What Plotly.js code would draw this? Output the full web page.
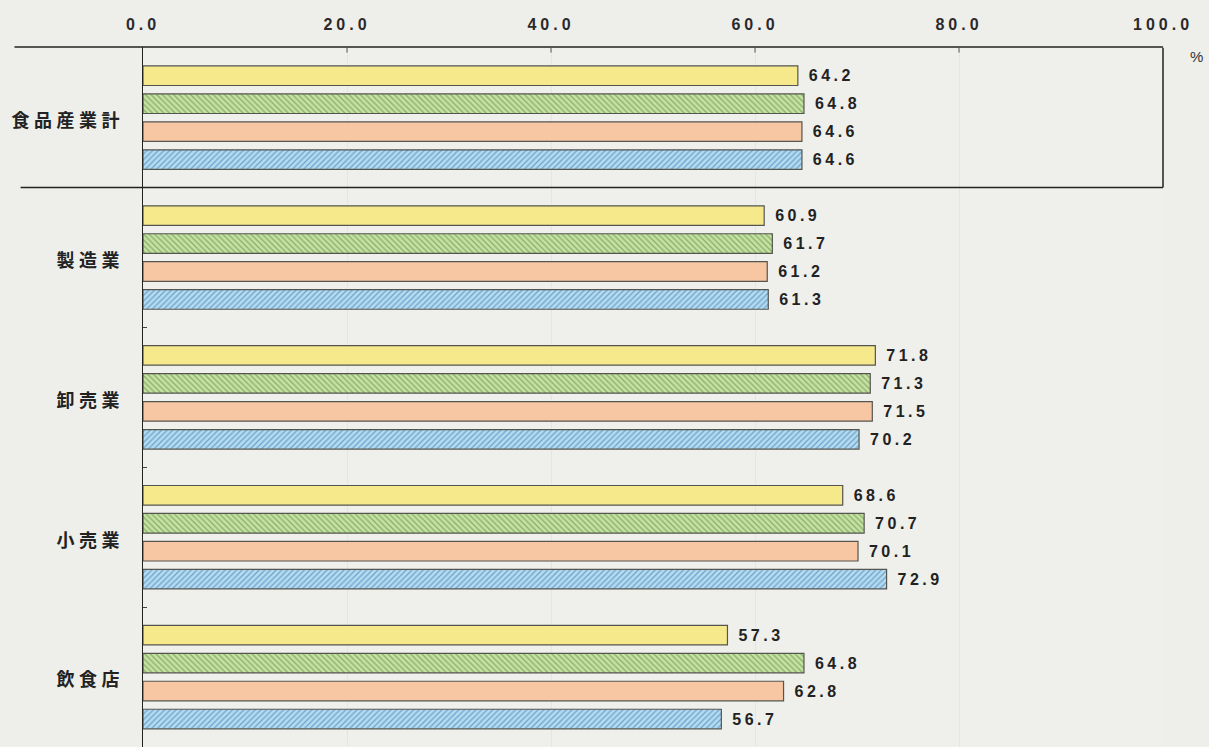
<!DOCTYPE html>
<html>
<head>
<meta charset="utf-8">
<script src="https://cdn.plot.ly/plotly-3.0.1.min.js"></script>
<style>
  html, body { margin: 0; padding: 0; background: #eeeeea; }
  #chart { width: 1209px; height: 747px; }
  .ytick text { letter-spacing: 4.5px; }
  .xtick text { letter-spacing: 4px; }
  .bartext { letter-spacing: 3.5px; }
</style>
</head>
<body>
<div id="chart"></div>
<script>
// Categories (top to bottom)
const categories = ["食品産業計", "製造業", "卸売業", "小売業", "飲食店"];
// Four series per category (top bar to bottom bar)
const seriesNames = ["系列1", "系列2", "系列3", "系列4"];
const series1 = [64.2, 60.9, 71.8, 68.6, 57.3];
const series2 = [64.8, 61.7, 71.3, 70.7, 64.8];
const series3 = [64.6, 61.2, 71.5, 70.1, 62.8];
const series4 = [64.6, 61.3, 70.2, 72.9, 56.7];
const tickVals = [0, 20, 40, 60, 80, 100];
const tickText = ["0.0", "20.0", "40.0", "60.0", "80.0", "100.0"];

const fills = ["#f6e98c", "#bcdb94", "#f7c7a3", "#a8d3ec"];
const patterns = [
  {shape: ""},
  {shape: "\\", fgcolor: "#86ad6a", bgcolor: "#c6e2a2", size: 4, solidity: 0.3},
  {shape: ""},
  {shape: "/", fgcolor: "#6aa3cc", bgcolor: "#b6dbf0", size: 4, solidity: 0.3}
];
const allSeries = [series1, series2, series3, series4];

const traces = allSeries.map((vals, i) => ({
  type: "bar",
  orientation: "h",
  name: seriesNames[i],
  y: categories,
  x: vals,
  marker: {
    color: fills[i],
    line: {color: "#555550", width: 1.2},
    pattern: patterns[i]
  },
  texttemplate: "\u00a0%{x:.1f}",
  textposition: "outside",
  cliponaxis: false,
  textfont: {family: "Liberation Sans, Arial, sans-serif", size: 16, color: "#222", weight: "bold"},
  hoverinfo: "skip"
}));

const layout = {
  width: 1209,
  height: 747,
  margin: {l: 143, r: 46, t: 47, b: 0},
  paper_bgcolor: "#eeeeea",
  plot_bgcolor: "#efefeb",
  showlegend: false,
  barmode: "group",
  bargap: 0.2,
  bargroupgap: 0.3,
  xaxis: {
    side: "top",
    range: [0, 100],
    tickvals: tickVals,
    ticktext: tickText,
    showgrid: true,
    gridcolor: "#e6e6e1",
    gridwidth: 1,
    zeroline: false,
    showline: false,
    ticks: "",
    ticklabelstandoff: 13,
    tickfont: {family: "Liberation Sans, Arial, sans-serif", size: 16, color: "#2a2a2a", weight: "bold"},
    fixedrange: true
  },
  yaxis: {
    type: "category",
    autorange: "reversed",
    showline: true,
    linecolor: "#222",
    linewidth: 1.5,
    showgrid: false,
    zeroline: false,
    ticks: "inside",
    tickson: "boundaries",
    ticklen: 4,
    tickcolor: "#444",
    ticklabelstandoff: 14,
    ticklabelshift: -3,
    tickfont: {family: "Noto Sans CJK JP, sans-serif", size: 18, color: "#222", weight: "bold"},
    fixedrange: true
  },
  shapes: [
    // top rule
    {type: "line", xref: "paper", yref: "paper", x0: -0.126, x1: 1, y0: 1, y1: 1,
     line: {color: "#222", width: 1.5}},
    // separator under the total group
    {type: "line", xref: "paper", yref: "y", x0: -0.12, x1: 1, y0: 0.5, y1: 0.5,
     line: {color: "#222", width: 1.5}},
    // right border of total group
    {type: "line", xref: "paper", yref: "y", x0: 1, x1: 1, y0: -0.5, y1: 0.5,
     line: {color: "#222", width: 1.5}},
    // small ticks on top rule
    ...[20, 40, 60, 80].map(v => ({type: "line", xref: "x", yref: "paper", x0: v, x1: v,
     y0: 1, y1: 0.992, line: {color: "#555", width: 1}}))
  ],
  annotations: [
    {text: "%", xref: "paper", yref: "paper", x: 1.033, y: 0.986, xanchor: "center", yanchor: "middle",
     showarrow: false, font: {family: "Liberation Sans, Arial, sans-serif", size: 15, color: "#333"}}
  ]
};

Plotly.newPlot("chart", traces, layout, {displayModeBar: false, staticPlot: true});
</script>
</body>
</html>
